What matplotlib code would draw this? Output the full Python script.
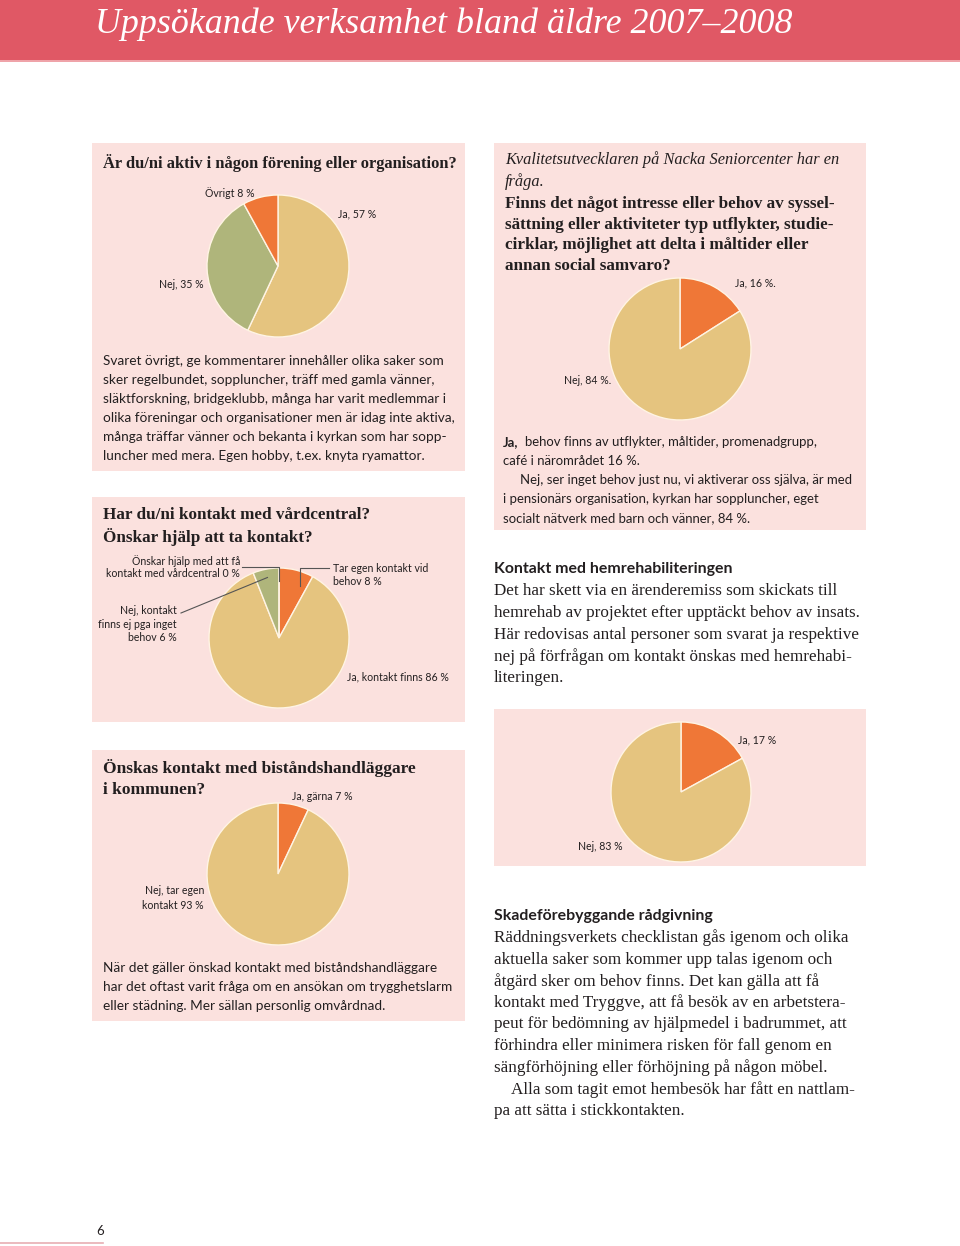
import matplotlib
matplotlib.use('Agg')
import numpy as np
import matplotlib.pyplot as plt
from matplotlib.patches import Rectangle

W, H = 960, 1246

# ___ DATA ___ #
forening_labels = ['Ja, 57 %', 'Nej, 35 %', 'Övrigt 8 %']
forening_values = [57, 35, 8]

syssel_labels = ['Ja, 16 %.', 'Nej, 84 %.']
syssel_values = [16, 84]

vard_labels = ['Tar egen kontakt vid\nbehov 8 %', 'Ja, kontakt finns 86 %',
               'Nej, kontakt\nfinns ej pga inget\nbehov 6 %',
               'Önskar hjälp med att få\nkontakt med vårdcentral 0 %']
vard_values = [8, 86, 6, 0]

hemrehab_labels = ['Ja, 17 %', 'Nej, 83 %']
hemrehab_values = [17, 83]

bistand_labels = ['Ja, gärna 7 %', 'Nej, tar egen\nkontakt 93 %']
bistand_values = [7, 93]

# ___ STYLE ___ #
RED = '#E05865'
PINK = '#FBE1DE'
TAN = '#E5C47F'
ORANGE = '#EF7737'
OLIVE = '#AFB57B'
EDGE = '#FFF4E4'
TXT = '#231F20'
SANS = 'Lato'
SERIF = 'Liberation Serif'

fig = plt.figure(figsize=(W / 100, H / 100), dpi=100)
bg = fig.add_axes([0, 0, 1, 1])
bg.set_xlim(0, W)
bg.set_ylim(H, 0)
bg.axis('off')

# header band
bg.add_patch(Rectangle((0, 0), W, 60, color=RED, lw=0))
bg.add_patch(Rectangle((0, 60), W, 2, color='#EFA3A9', lw=0))

# pink boxes (x0, y0, x1, y1)
for x0, y0, x1, y1 in [(92, 143, 465, 471), (494, 143, 866, 530), (92, 497, 465, 722),
                       (494, 709, 866, 866), (92, 750, 465, 1021)]:
    bg.add_patch(Rectangle((x0, y0), x1 - x0, y1 - y0, color=PINK, lw=0))

bg.plot([0, 103], [1243, 1243], color='#E8AEB3', lw=1.2)


def draw_pie(cx, cy, r, values, colors):
    pad = 1.06
    ax = fig.add_axes([(cx - r * pad) / W, 1 - (cy + r * pad) / H, 2 * r * pad / W, 2 * r * pad / H])
    wedges, _ = ax.pie(values, colors=colors, startangle=90, counterclock=False, radius=1,
                       wedgeprops=dict(edgecolor=EDGE, linewidth=1.0))
    ax.set_xlim(-pad, pad)
    ax.set_ylim(-pad, pad)
    ax.axis('off')
    return wedges


draw_pie(278, 266, 71, forening_values, [TAN, OLIVE, ORANGE])
draw_pie(680, 349, 71, syssel_values, [ORANGE, TAN])
vard_wedges = draw_pie(279, 638, 70, vard_values, [ORANGE, TAN, OLIVE, TAN])
draw_pie(681, 792, 70, hemrehab_values, [ORANGE, TAN])
draw_pie(278, 874, 71, bistand_values, [ORANGE, TAN])

# overlay for text and leader lines
ov = fig.add_axes([0, 0, 1, 1])
ov.set_xlim(0, W)
ov.set_ylim(H, 0)
ov.axis('off')
ov.patch.set_alpha(0)


def txt(x, y, s, size, family=SANS, ha='left', weight='normal', style='normal', color=TXT, ls=1.2):
    ov.text(x, y, s, fontsize=size, family=family, ha=ha, va='center', weight=weight,
            style=style, color=color, linespacing=ls, multialignment=ha)


def lines(x, y0, dy, rows, size, family, **kw):
    for i, row in enumerate(rows):
        txt(x, y0 + i * dy, row, size, family, **kw)


def wedge_point(w, cx, cy, r, frac, shift=0.0):
    a = np.deg2rad((w.theta1 + w.theta2) / 2 + shift)
    return cx + frac * r * np.cos(a), cy - frac * r * np.sin(a)


# ___ HEADER ___ #
txt(95, 24, 'Uppsökande verksamhet bland äldre 2007–2008', 25.8, SERIF, style='italic', color='white')

PIE_FS = 7.6
BODY_FS = 9.85
SERIF_FS = 12.35
HEAD_FS = 12.3
SUB_FS = 11.4

# ___ BOX 1 ___ #
txt(103, 163, 'Är du/ni aktiv i någon förening eller organisation?', 11.9, SERIF, weight='bold')
txt(205, 193, forening_labels[2], PIE_FS)
txt(338, 214, forening_labels[0], PIE_FS)
txt(204, 284, forening_labels[1], PIE_FS, ha='right')
lines(103, 361, 18.9, [
    'Svaret övrigt, ge kommentarer innehåller olika saker som',
    'sker regelbundet, soppluncher, träff med gamla vänner,',
    'släktforskning, bridgeklubb, många har varit medlemmar i',
    'olika föreningar och organisationer men är idag inte aktiva,',
    'många träffar vänner och bekanta i kyrkan som har sopp-',
    'luncher med mera. Egen hobby, t.ex. knyta ryamattor.',
], BODY_FS, SANS)

# ___ TOP RIGHT BOX ___ #
lines(505, 160, 21.8, ['Kvalitetsutvecklaren på Nacka Seniorcenter har en', 'fråga.'],
      11.8, SERIF, style='italic')
lines(505, 204, 20.7, [
    'Finns det något intresse eller behov av syssel-',
    'sättning eller aktiviteter typ utflykter, studie-',
    'cirklar, möjlighet att delta i måltider eller',
    'annan social samvaro?',
], HEAD_FS, SERIF, weight='bold')
txt(735, 283, syssel_labels[0], PIE_FS)
txt(611, 380, syssel_labels[1], PIE_FS, ha='right')
TR_FS = 9.45
txt(503, 442, 'Ja,', TR_FS, weight='bold')
lines(525, 442, 18.8, ['behov finns av utflykter, måltider, promenadgrupp,'], TR_FS, SANS)
lines(503, 461, 18.8, ['café i närområdet 16 %.'], TR_FS, SANS)
lines(520, 480, 18.8, ['Nej, ser inget behov just nu, vi aktiverar oss själva, är med'], TR_FS, SANS)
lines(503, 499, 18.8, ['i pensionärs organisation, kyrkan har soppluncher, eget',
                       'socialt nätverk med barn och vänner, 84 %.'], TR_FS, SANS)

# ___ VÅRDCENTRAL BOX ___ #
lines(103, 515, 21.5, ['Har du/ni kontakt med vårdcentral?', 'Önskar hjälp att ta kontakt?'],
      HEAD_FS, SERIF, weight='bold')
cx, cy, r = 279, 638, 70
txt(240, 567, vard_labels[3], PIE_FS, ha='right', ls=1.2)
p0 = wedge_point(vard_wedges[3], cx, cy, r, 0.82)
ov.plot([242, p0[0], p0[0]], [567, 567, p0[1]], color='#555555', lw=0.8)
txt(177, 624, vard_labels[2], PIE_FS, ha='right', ls=1.3)
p2 = wedge_point(vard_wedges[2], cx, cy, r, 0.88)
ov.plot([181, p2[0]], [613, p2[1]], color='#555555', lw=0.8)
txt(333, 575, vard_labels[0], PIE_FS, ls=1.3)
p1 = wedge_point(vard_wedges[0], cx, cy, r, 0.8, shift=-8)
ov.plot([329, p1[0], p1[0]], [568, 568, p1[1]], color='#555555', lw=0.8)
txt(347, 677, vard_labels[1], PIE_FS)

# ___ HEMREHAB TEXT ___ #
txt(494, 569, 'Kontakt med hemrehabiliteringen', SUB_FS, SANS, weight='bold')
lines(494, 591, 21.8, [
    'Det har skett via en ärenderemiss som skickats till',
    'hemrehab av projektet efter upptäckt behov av insats.',
    'Här redovisas antal personer som svarat ja respektive',
    'nej på förfrågan om kontakt önskas med hemrehabi-',
    'literingen.',
], SERIF_FS, SERIF)
txt(738, 740, hemrehab_labels[0], PIE_FS)
txt(578, 847, hemrehab_labels[1], PIE_FS)

# ___ BISTÅND BOX ___ #
lines(103, 768, 21.5, ['Önskas kontakt med biståndshandläggare', 'i kommunen?'], 12.5, SERIF, weight='bold')
txt(292, 797, bistand_labels[0], PIE_FS)
txt(204, 898, bistand_labels[1], PIE_FS, ha='right', ls=1.35)
lines(103, 968, 19.2, [
    'När det gäller önskad kontakt med biståndshandläggare',
    'har det oftast varit fråga om en ansökan om trygghetslarm',
    'eller städning. Mer sällan personlig omvårdnad.',
], BODY_FS, SANS)

# ___ SKADEFÖREBYGGANDE TEXT ___ #
txt(494, 916, 'Skadeförebyggande rådgivning', SUB_FS, SANS, weight='bold')
skade = [
    'Räddningsverkets checklistan gås igenom och olika',
    'aktuella saker som kommer upp talas igenom och',
    'åtgärd sker om behov finns. Det kan gälla att få',
    'kontakt med Tryggve, att få besök av en arbetstera-',
    'peut för bedömning av hjälpmedel i badrummet, att',
    'förhindra eller minimera risken för fall genom en',
    'sängförhöjning eller förhöjning på någon möbel.',
]
lines(494, 938, 21.6, skade, SERIF_FS, SERIF)
txt(511, 938 + 7 * 21.6, 'Alla som tagit emot hembesök har fått en nattlam-', SERIF_FS, SERIF)
txt(494, 938 + 8 * 21.6, 'pa att sätta i stickkontakten.', SERIF_FS, SERIF)

# page number
txt(96, 1231, '6', 9.5, SANS)

fig.savefig('out.png', dpi=100, facecolor='white')
